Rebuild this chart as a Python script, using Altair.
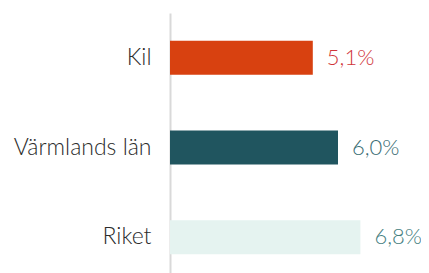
import altair as alt
import pandas as pd

categories = ["Kil", "Värmlands län", "Riket"]
values = [5.1, 6.0, 6.8]
labels = ["5,1%", "6,0%", "6,8%"]
bar_colors = ["#d84110", "#20555f", "#e5f3f0"]
text_colors = ["#d0353a", "#386c72", "#468081"]

df = pd.DataFrame({"cat": categories, "val": values, "lab": labels,
                   "bc": bar_colors, "tc": text_colors})

y = alt.Y("cat:N", sort=categories, title=None,
          scale=alt.Scale(paddingInner=0.62, paddingOuter=0.31),
          axis=alt.Axis(domain=True, domainColor="#d9d9d9", domainWidth=2,
                        ticks=False, labelPadding=19, labelFontSize=23,
                        labelFont="Lato", labelFontWeight=300,
                        labelColor="#2b2b2b", grid=False))
x = alt.X("val:Q", scale=alt.Scale(domain=[0, 8.0], nice=False), axis=None)

bars = alt.Chart(df).mark_bar(cornerRadius=0).encode(
    x=x, y=y, color=alt.Color("bc:N", scale=None))
text = alt.Chart(df).mark_text(align="left", baseline="middle", dx=14,
                               fontSize=22, font="Lato", fontWeight=300).encode(
    x=x, y=alt.Y("cat:N", sort=categories), text="lab:N",
    color=alt.Color("tc:N", scale=None))

chart = (bars + text).properties(
    width=224, height=269,
    autosize=alt.AutoSizeParams(type="none"),
    padding={"left": 162, "top": 5, "right": 27, "bottom": 0},
).configure_view(stroke=None)

chart.save("out.html", embed_options={"renderer": "svg", "actions": False})
